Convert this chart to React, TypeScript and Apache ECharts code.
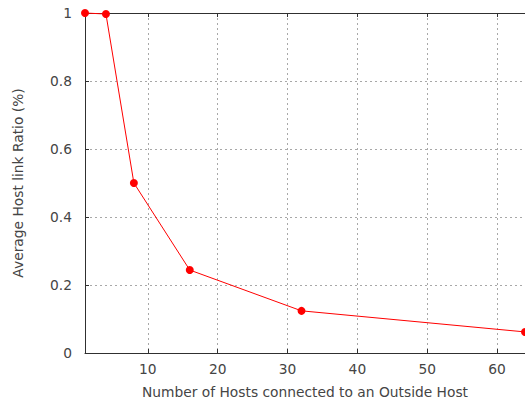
import React, { useEffect, useRef } from "react";
import * as echarts from "echarts";

const hosts = [1, 4, 8, 16, 32, 64];
const ratios = [1, 0.997, 0.5, 0.244, 0.124, 0.062];
const xTicks = [10, 20, 30, 40, 50, 60];
const xTitle = "Number of Hosts connected to an Outside Host";
const yTitle = "Average Host link Ratio (%)";

export default function App() {
  const ref = useRef<HTMLDivElement>(null);
  useEffect(() => {
    document.body.style.margin = "0";
    const chart = echarts.init(ref.current!, null, { renderer: "svg" });
    const font = "DejaVu Sans";
    const fs = 13.8;
    const textColor = "#454545";
    const axisLineColor = "#303030";
    const gridLine = { show: true, lineStyle: { color: "#a8a8a8", type: [2, 3], width: 1 } };
    chart.setOption({
      animation: false,
      backgroundColor: "#ffffff",
      grid: { left: 85, top: 13, width: 442, height: 340, containLabel: false },
      xAxis: [
        {
          type: "value",
          min: 1,
          max: 64,
          name: xTitle,
          nameLocation: "middle",
          nameGap: 32,
          nameTextStyle: { fontFamily: font, fontSize: fs, color: textColor },
          axisLine: { show: true, onZero: false, lineStyle: { color: axisLineColor, width: 1 } },
          axisTick: { show: true, inside: true, length: 4, customValues: xTicks, lineStyle: { color: axisLineColor } },
          axisLabel: { customValues: xTicks, margin: 9, fontFamily: font, fontSize: fs, color: textColor },
          splitLine: gridLine,
        },
        {
          type: "value",
          position: "top",
          min: 1,
          max: 64,
          axisLine: { show: true, onZero: false, lineStyle: { color: axisLineColor, width: 1 } },
          axisTick: { show: true, inside: true, length: 4, customValues: xTicks, lineStyle: { color: axisLineColor } },
          axisLabel: { show: false },
          splitLine: { show: false },
        },
      ],
      yAxis: {
        type: "value",
        min: 0,
        max: 1,
        interval: 0.2,
        name: yTitle,
        nameLocation: "middle",
        nameGap: 60,
        nameTextStyle: { fontFamily: font, fontSize: fs, color: textColor },
        axisLine: { show: true, onZero: false, lineStyle: { color: axisLineColor, width: 1 } },
        axisTick: { show: true, inside: true, length: 4, lineStyle: { color: axisLineColor } },
        axisLabel: { margin: 13, fontFamily: font, fontSize: fs, color: textColor },
        splitLine: gridLine,
      },
      series: [
        {
          type: "line",
          xAxisIndex: 0,
          data: hosts.map((h, i) => [h, ratios[i]]),
          symbol: "circle",
          symbolSize: 8,
          clip: false,
          lineStyle: { color: "#ff0000", width: 1 },
          itemStyle: { color: "#ff0000" },
        },
      ],
    });
    return () => chart.dispose();
  }, []);
  return <div ref={ref} style={{ width: 525, height: 405 }} />;
}
